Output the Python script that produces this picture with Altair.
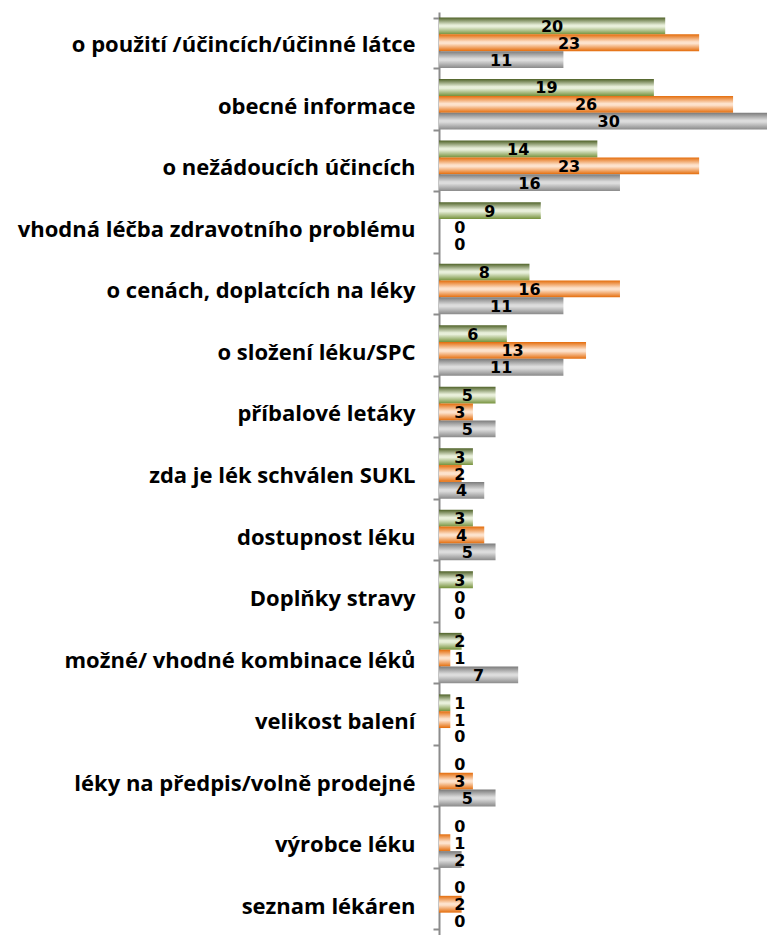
import altair as alt
import pandas as pd

categories = [
    "o použití /účincích/účinné látce",
    "obecné informace",
    "o nežádoucích účincích",
    "vhodná léčba zdravotního problému",
    "o cenách, doplatcích na léky",
    "o složení léku/SPC",
    "příbalové letáky",
    "zda je lék schválen SUKL",
    "dostupnost léku",
    "Doplňky stravy",
    "možné/ vhodné kombinace léků",
    "velikost balení",
    "léky na předpis/volně prodejné",
    "výrobce léku",
    "seznam lékáren",
]
series_names = ["řada 1", "řada 2", "řada 3"]
green_vals = [20, 19, 14, 9, 8, 6, 5, 3, 3, 3, 2, 1, 0, 0, 0]
orange_vals = [23, 26, 23, 0, 16, 13, 3, 2, 4, 0, 1, 1, 3, 1, 2]
gray_vals = [11, 30, 16, 0, 11, 11, 5, 4, 5, 0, 7, 0, 5, 2, 0]

rows = []
for s, vals in zip(series_names, [green_vals, orange_vals, gray_vals]):
    for c, v in zip(categories, vals):
        rows.append({"category": c, "series": s, "value": v})
df = pd.DataFrame(rows)


def grad(edge_top, mid, edge_bot):
    return alt.LinearGradient(
        gradient="linear", x1=0, y1=0, x2=0, y2=1,
        stops=[
            alt.GradientStop(offset=0, color=edge_top),
            alt.GradientStop(offset=0.45, color=mid),
            alt.GradientStop(offset=0.55, color=mid),
            alt.GradientStop(offset=1, color=edge_bot),
        ],
    )


fills = [
    grad("#4f6228", "#e8efda", "#76923c"),
    grad("#e46c0a", "#fde2cc", "#e46c0a"),
    grad("#7a7a7a", "#dcdcdc", "#8a8a8a"),
]

y_enc = alt.Y(
    "category:N",
    sort=categories,
    scale=alt.Scale(paddingInner=0.18, paddingOuter=0.09),
    axis=alt.Axis(
        title=None,
        tickBand="extent",
        tickSize=6,
        tickWidth=2,
        tickColor="#8c8c8c",
        domainColor="#8c8c8c",
        domainWidth=2,
        labelFont="Open Sans",
        labelFontSize=22,
        labelFontWeight="bold",
        labelColor="black",
        labelPadding=18,
        labelOffset=2,
        labelLimit=600,
    ),
)
yoff_enc = alt.YOffset(
    "series:N", scale=alt.Scale(domain=series_names, paddingInner=0, paddingOuter=0)
)
x_scale = alt.Scale(domain=[0, 29], nice=False, zero=True)

base = alt.Chart(df)
layers = []
for s, f in zip(series_names, fills):
    layers.append(
        base.transform_filter(alt.datum.series == s)
        .mark_bar(color=f, clip=True)
        .encode(
            x=alt.X("value:Q", scale=x_scale, axis=None),
            y=y_enc,
            yOffset=yoff_enc,
        )
    )

text = (
    base.transform_calculate(lx="max(datum.value / 2, 1.85)")
    .mark_text(font="DejaVu Sans", fontSize=16, fontWeight="bold", color="black",
               align="center", baseline="middle", dy=1)
    .encode(
        x=alt.X("lx:Q", scale=x_scale, axis=None),
        y=y_enc,
        yOffset=yoff_enc,
        text=alt.Text("value:Q"),
    )
)

chart = (
    alt.layer(*layers, text)
    .properties(
        width=328,
        height=923,
        autosize=alt.AutoSizeParams(type="none"),
        padding={"left": 431, "top": 4, "right": 0, "bottom": 0},
        background="white",
    )
    .configure_view(stroke=None)
)

chart.save("out.html", embed_options={"renderer": "svg", "actions": False})
